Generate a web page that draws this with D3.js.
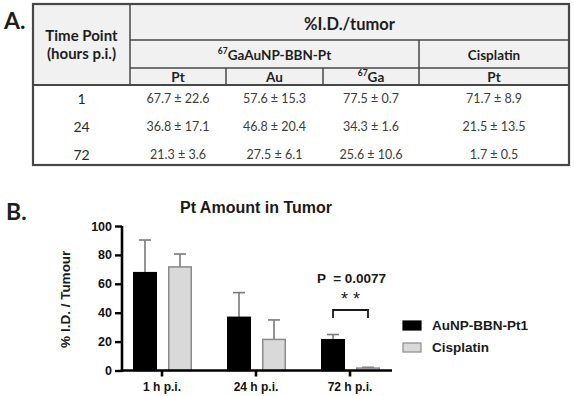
<!DOCTYPE html>
<html>
<head>
<meta charset="utf-8">
<script src="https://cdn.jsdelivr.net/npm/d3@7"></script>
<style>
  body { margin: 0; background: #fff; }
  svg { display: block; }
</style>
</head>
<body>
<svg id="fig" width="574" height="396"></svg>
<script>
// table data (panel A)
const timePoints = ['1', '24', '72'];
const ptMean = [67.7, 36.8, 21.3];
const ptSD = [22.6, 17.1, 3.6];
const auMean = [57.6, 46.8, 27.5];
const auSD = [15.3, 20.4, 6.1];
const gaMean = [77.5, 34.3, 25.6];
const gaSD = [0.7, 1.6, 10.6];
const cisMean = [71.7, 21.5, 1.7];
const cisSD = [8.9, 13.5, 0.5];

// chart data (panel B)
const categories = ['1 h p.i.', '24 h p.i.', '72 h p.i.'];
const seriesNames = ['AuNP-BBN-Pt1', 'Cisplatin'];
const yTicks = [0, 20, 40, 60, 80, 100];
const pLabel = 'P  = 0.0077';

const svg = d3.select('#fig');
const tableFont = 'Lato, "Open Sans", sans-serif';
const chartFont = '"Liberation Sans", Arial, sans-serif';

// ---------- panel A : table ----------
const T = { left: 33, right: 569, top: 4, bottom: 165, split: 130 };
const colEdges = [130, 226, 323, 419, 569];
const rowLines = [40, 68, 85];
const lineCol = '#474747';

const tbl = svg.append('g');

tbl.append('rect')
  .attr('x', T.left).attr('y', T.top)
  .attr('width', T.right - T.left).attr('height', rowLines[2] - T.top)
  .attr('fill', '#f1f1f1');

const line = (x1, y1, x2, y2, w) => tbl.append('line')
  .attr('x1', x1).attr('y1', y1).attr('x2', x2).attr('y2', y2)
  .attr('stroke', lineCol).attr('stroke-width', w);

line(T.split, rowLines[0], T.right, rowLines[0], 1.5);
line(T.split, rowLines[1], T.right, rowLines[1], 1.5);
line(T.left, rowLines[2], T.right, rowLines[2], 2);
line(T.split, T.top, T.split, rowLines[2], 1.5);
line(colEdges[1], rowLines[1], colEdges[1], rowLines[2], 1.5);
line(colEdges[2], rowLines[1], colEdges[2], rowLines[2], 1.5);
line(colEdges[3], rowLines[0], colEdges[3], rowLines[2], 1.5);

tbl.append('rect')
  .attr('x', T.left).attr('y', T.top)
  .attr('width', T.right - T.left).attr('height', T.bottom - T.top)
  .attr('fill', 'none').attr('stroke', lineCol).attr('stroke-width', 2.2);

const txt = (x, y, s, size, weight, color) => tbl.append('text')
  .attr('x', x).attr('y', y)
  .attr('text-anchor', 'middle').attr('dominant-baseline', 'central')
  .style('font-family', tableFont).style('font-size', size + 'px')
  .style('font-weight', weight).attr('fill', color || '#1e1e1e')
  .text(s);

const leftMid = (T.left + T.split) / 2;
txt(leftMid, 35, 'Time Point', 15, 700);
txt(leftMid, 53, '(hours p.i.)', 15, 700);
txt((T.split + T.right) / 2, 24, '%I.D./tumor', 16.5, 700);

const grp = txt((T.split + colEdges[3]) / 2, 55, '', 13.5, 700);
grp.append('tspan').attr('font-size', '8.5px').attr('dy', '-4').text('67');
grp.append('tspan').attr('dy', '4').text('GaAuNP-BBN-Pt');
txt((colEdges[3] + T.right) / 2, 55, 'Cisplatin', 13.5, 700);

const subHeads = ['Pt', 'Au', 'Ga', 'Pt'];
subHeads.forEach((s, i) => {
  const cx = (colEdges[i] + colEdges[i + 1]) / 2;
  const t = txt(cx, 77, '', 13.5, 700);
  if (s === 'Ga') {
    t.append('tspan').attr('font-size', '8.5px').attr('dy', '-4').text('67');
    t.append('tspan').attr('dy', '4').text(s);
  } else {
    t.text(s);
  }
});

const fmt = (m, s) => `${m.toFixed(1)} ± ${s.toFixed(1)}`;
const tableCols = [
  timePoints.map((_, i) => fmt(ptMean[i], ptSD[i])),
  timePoints.map((_, i) => fmt(auMean[i], auSD[i])),
  timePoints.map((_, i) => fmt(gaMean[i], gaSD[i])),
  timePoints.map((_, i) => fmt(cisMean[i], cisSD[i]))
];
const rowY = d3.scalePoint().domain(timePoints).range([98, 154]);
timePoints.forEach((tp, r) => {
  txt(leftMid, rowY(tp), tp, 14, 400, '#2a2a2a');
  tableCols.forEach((col, c) => {
    txt((colEdges[c] + colEdges[c + 1]) / 2, rowY(tp), col[r], 12.5, 400, '#3c3c3c');
  });
});

// panel labels
svg.append('text').attr('x', 4).attr('y', 29)
  .style('font-family', tableFont).style('font-size', '23px').style('font-weight', 700)
  .attr('fill', '#1e1e1e').text('A.');
svg.append('text').attr('x', 6).attr('y', 220)
  .style('font-family', tableFont).style('font-size', '23px').style('font-weight', 700)
  .attr('fill', '#1e1e1e').text('B.');

// ---------- panel B : bar chart ----------
const axisX0 = 122, axisX1 = 392;
const y = d3.scaleLinear().domain([0, 100]).range([370.5, 226]);
const x = d3.scaleBand().domain(categories).range([115, 397]);
const xs = d3.scaleBand().domain(seriesNames).range([-29, 30]).paddingInner(0.314);
const fills = ['#000000', '#d9d9d9'];
const strokes = ['#000000', '#8a8a8a'];

const chart = svg.append('g').style('font-family', chartFont);

chart.append('text')
  .attr('x', 256).attr('y', 213).attr('text-anchor', 'middle')
  .style('font-size', '16px').style('font-weight', 700).attr('fill', '#1a1a1a')
  .text('Pt Amount in Tumor');

const bars = categories.map((c, i) => [
  { cat: c, s: 0, m: ptMean[i], sd: ptSD[i] },
  { cat: c, s: 1, m: cisMean[i], sd: cisSD[i] }
]).flat();

const bx = d => x(d.cat) + x.bandwidth() / 2 + xs(seriesNames[d.s]);

// error bars (upper only)
const err = chart.append('g').attr('stroke', '#7a7a7a').attr('stroke-width', 1.6);
bars.forEach(d => {
  const cx = bx(d) + xs.bandwidth() / 2;
  err.append('line').attr('x1', cx).attr('x2', cx).attr('y1', y(d.m)).attr('y2', y(d.m + d.sd));
  err.append('line').attr('x1', cx - 6).attr('x2', cx + 6).attr('y1', y(d.m + d.sd)).attr('y2', y(d.m + d.sd));
});

chart.append('g').selectAll('rect').data(bars).join('rect')
  .attr('x', d => bx(d) + 0.75)
  .attr('y', d => y(d.m))
  .attr('width', xs.bandwidth() - 1.5)
  .attr('height', d => y(0) - y(d.m))
  .attr('fill', d => fills[d.s])
  .attr('stroke', d => strokes[d.s])
  .attr('stroke-width', 1.5);

// y axis
const yAxis = chart.append('g').attr('transform', `translate(${axisX0},0)`)
  .call(d3.axisLeft(y).tickValues(yTicks).tickSize(7).tickPadding(3).tickSizeOuter(0));
yAxis.select('.domain').attr('stroke', '#000').attr('stroke-width', 2.6)
  .attr('d', `M0,${y(100)}V${y(0) + 1.3}`);
yAxis.selectAll('.tick line').attr('stroke', '#000').attr('stroke-width', 2.4);
yAxis.selectAll('.tick text').style('font-family', chartFont)
  .style('font-size', '12.5px').style('font-weight', 700).attr('fill', '#111');

// x axis
const xAxis = chart.append('g').attr('transform', `translate(0,${y(0)})`)
  .call(d3.axisBottom(x).tickSize(6).tickPadding(6).tickSizeOuter(0));
xAxis.select('.domain').attr('stroke', '#000').attr('stroke-width', 2.6)
  .attr('d', `M${axisX0 - 1.3},0H${axisX1}`);
xAxis.selectAll('.tick line').attr('stroke', '#000').attr('stroke-width', 2.6);
xAxis.selectAll('.tick text').style('font-family', chartFont)
  .style('font-size', '12px').style('font-weight', 700).attr('fill', '#111');

chart.append('text')
  .attr('transform', `translate(70,${(y(0) + y(100)) / 2 + 1}) rotate(-90)`)
  .attr('text-anchor', 'middle')
  .style('font-size', '13.5px').style('font-weight', 700).attr('fill', '#1a1a1a')
  .text('% I.D. / Tumour');

// significance annotation on last group
const last = categories[2];
const b0 = bx({ cat: last, s: 0 }) + xs.bandwidth() / 2;
const b1 = bx({ cat: last, s: 1 }) + xs.bandwidth() / 2;
const bracketY = y(100) + 84;
chart.append('path')
  .attr('d', `M${b0},${bracketY + 8}V${bracketY}H${b1}V${bracketY + 8}`)
  .attr('fill', 'none').attr('stroke', '#1a1a1a').attr('stroke-width', 1.8);
chart.append('text')
  .attr('x', (b0 + b1) / 2).attr('y', bracketY - 5).attr('text-anchor', 'middle')
  .style('font-size', '18px').style('font-weight', 400).attr('fill', '#1a1a1a')
  .text('* *');
chart.append('text')
  .attr('x', (b0 + b1) / 2 + 1).attr('y', bracketY - 27).attr('text-anchor', 'middle')
  .style('white-space', 'pre')
  .style('font-size', '13.5px').style('font-weight', 700).attr('fill', '#1a1a1a')
  .text(pLabel);

// legend
const leg = chart.append('g').attr('transform', 'translate(403,321)');
seriesNames.forEach((s, i) => {
  const g = leg.append('g').attr('transform', `translate(0,${i * 22})`);
  g.append('rect').attr('width', 18).attr('height', 9)
    .attr('fill', fills[i]).attr('stroke', strokes[i]).attr('stroke-width', 1.2);
  g.append('text').attr('x', 29).attr('y', 4.5).attr('dominant-baseline', 'central')
    .style('font-size', '13.5px').style('font-weight', 700).attr('fill', '#1a1a1a')
    .text(s);
});
</script>
</body>
</html>
